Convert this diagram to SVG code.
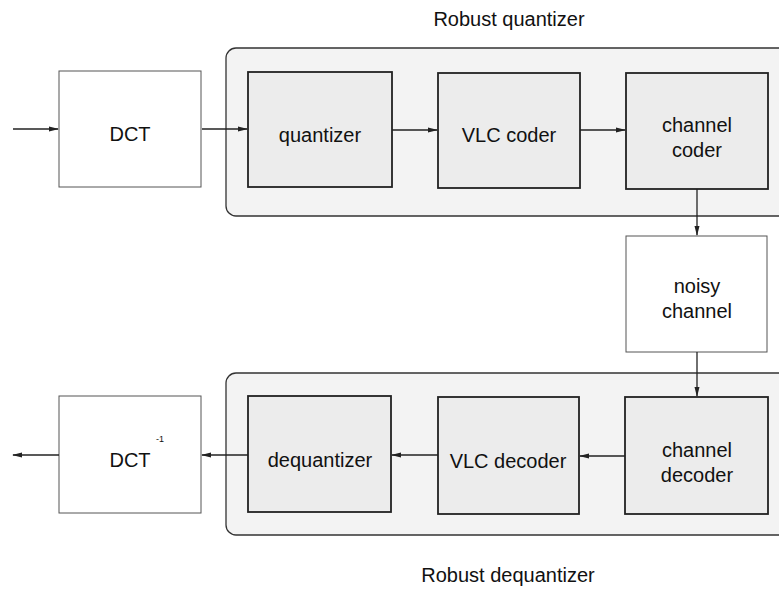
<svg xmlns="http://www.w3.org/2000/svg" width="779" height="590" viewBox="0 0 779 590">
<defs>
<marker id="ah" markerWidth="10" markerHeight="8" refX="9" refY="4" orient="auto" markerUnits="userSpaceOnUse">
<path d="M0,1.5 L10,4 L0,6.5 Z" fill="#222"/>
</marker>
<style>
text{font-family:"Liberation Sans",Arial,sans-serif;fill:#111;text-anchor:middle}
.lbl{font-size:20px}
.ttl{font-size:20px}
.cont{fill:#f3f3f3;stroke:#333;stroke-width:1.3}
.blk{fill:#ececec;stroke:#222;stroke-width:1.8}
.plain{fill:#fff;stroke:#555;stroke-width:1}
.con{stroke:#222;stroke-width:1.3;fill:none;marker-end:url(#ah)}
</style>
</defs>
<rect width="779" height="590" fill="#fff"/>
<text class="ttl" x="509" y="26">Robust quantizer</text>
<text class="ttl" x="508" y="582">Robust dequantizer</text>
<g id="robust-quantizer"><rect class="cont" x="226" y="48" width="570" height="168" rx="10"/></g>
<g id="robust-dequantizer"><rect class="cont" x="226" y="373" width="570" height="162" rx="10"/></g>
<g id="dct"><rect class="plain" x="59" y="71" width="142" height="116"/><text class="lbl" x="130" y="141">DCT</text></g>
<g id="quantizer"><rect class="blk" x="248" y="72" width="144" height="115"/><text class="lbl" x="320" y="142">quantizer</text></g>
<g id="vlc-coder"><rect class="blk" x="438" y="73" width="142" height="115"/><text class="lbl" x="509" y="142">VLC coder</text></g>
<g id="channel-coder"><rect class="blk" x="626" y="73" width="142" height="116"/><text class="lbl" x="697" y="132">channel</text><text class="lbl" x="697" y="157">coder</text></g>
<g id="noisy-channel"><rect class="plain" x="626" y="236" width="141" height="116"/><text class="lbl" x="697" y="293">noisy</text><text class="lbl" x="697" y="318">channel</text></g>
<g id="channel-decoder"><rect class="blk" x="625" y="397" width="143" height="117"/><text class="lbl" x="697" y="457">channel</text><text class="lbl" x="697" y="482">decoder</text></g>
<g id="vlc-decoder"><rect class="blk" x="438" y="397" width="141" height="117"/><text class="lbl" x="508" y="468">VLC decoder</text></g>
<g id="dequantizer"><rect class="blk" x="248" y="396" width="143" height="116"/><text class="lbl" x="320" y="467">dequantizer</text></g>
<g id="dct-inv"><rect class="plain" x="59" y="396" width="142" height="117"/><text class="lbl" x="130" y="467">DCT</text><text x="160" y="442" style="font-size:9px">-1</text></g>
<g id="connectors">
<line class="con" x1="13" y1="129" x2="58" y2="129"/>
<line class="con" x1="202" y1="129" x2="247" y2="129"/>
<line class="con" x1="392" y1="130" x2="437" y2="130"/>
<line class="con" x1="580" y1="130" x2="625" y2="130"/>
<line class="con" x1="697" y1="189" x2="697" y2="235"/>
<line class="con" x1="697" y1="352" x2="697" y2="396"/>
<line class="con" x1="625" y1="456" x2="580" y2="456"/>
<line class="con" x1="438" y1="455" x2="392" y2="455"/>
<line class="con" x1="248" y1="455" x2="202" y2="455"/>
<line class="con" x1="59" y1="455" x2="13" y2="455"/>
</g>
</svg>
